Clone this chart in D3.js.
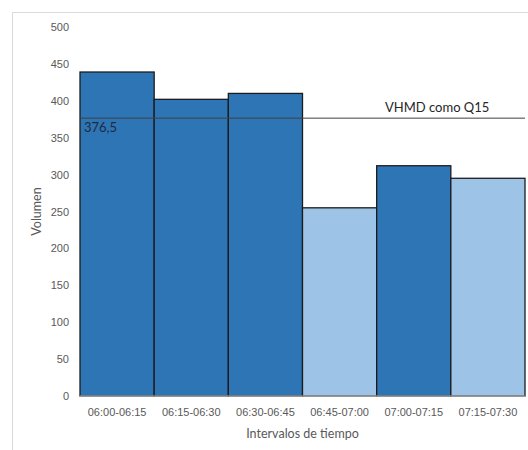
<!DOCTYPE html>
<html>
<head>
<meta charset="utf-8">
<script src="https://cdn.jsdelivr.net/npm/d3@7/dist/d3.min.js"></script>
<style>
  html, body { margin: 0; padding: 0; background: #fff; }
  svg { display: block; font-family: Lato, "Open Sans", sans-serif; }
</style>
</head>
<body>
<svg id="chart" width="528" height="450"></svg>
<script>
// Volumen vehicular por intervalo de 15 minutos
const intervals = ["06:00-06:15", "06:15-06:30", "06:30-06:45", "06:45-07:00", "07:00-07:15", "07:15-07:30"];
const volumes = [439, 402, 410, 255, 312, 295];
// Intervalos que forman la hora de máxima demanda
const inPeakHour = [true, true, true, false, true, false];
const yTicks = [0, 50, 100, 150, 200, 250, 300, 350, 400, 450, 500];
const q15 = 376.5;
const q15Label = "376,5";
const lineLabel = "VHMD como Q15";

const svg = d3.select("#chart");
const W = 528, H = 450;
const m = { left: 80, right: 3, top: 27, bottom: 54 };

// chart frame
svg.append("rect")
  .attr("x", 12.5).attr("y", 12.5)
  .attr("width", W + 10).attr("height", H + 10)
  .attr("fill", "#fff").attr("stroke", "#d9d9d9").attr("stroke-width", 1);

const x = d3.scaleBand().domain(intervals).range([m.left, W - m.right]).padding(0);
const y = d3.scaleLinear().domain([0, 500]).range([H - m.bottom, m.top]);

// bars
svg.append("g").selectAll("rect")
  .data(intervals)
  .join("rect")
  .attr("x", d => x(d))
  .attr("y", (d, i) => y(volumes[i]))
  .attr("width", x.bandwidth())
  .attr("height", (d, i) => y(0) - y(volumes[i]))
  .attr("fill", (d, i) => inPeakHour[i] ? "#2e75b6" : "#9dc3e6")
  .attr("stroke", "#1c1c1c")
  .attr("stroke-width", 1.3);

// baseline
svg.append("line")
  .attr("x1", m.left).attr("x2", W - m.right)
  .attr("y1", y(0)).attr("y2", y(0))
  .attr("stroke", "#bfbfbf").attr("stroke-width", 1);

// y axis
const yAxis = d3.axisLeft(y).tickValues(yTicks).tickSize(0).tickPadding(11);
const gy = svg.append("g").attr("transform", `translate(${m.left},0)`).call(yAxis);
gy.select(".domain").remove();
gy.selectAll("text").attr("fill", "#595959").style("font-size", "11px");

// x axis
const xAxis = d3.axisBottom(x).tickSize(0).tickPadding(12);
const gx = svg.append("g").attr("transform", `translate(0,${y(0)})`).call(xAxis);
gx.select(".domain").remove();
gx.selectAll("text").attr("fill", "#595959").style("font-size", "11px");

// Q15 reference line
svg.append("line")
  .attr("x1", m.left).attr("x2", W - m.right)
  .attr("y1", y(q15)).attr("y2", y(q15))
  .attr("stroke", "#404040").attr("stroke-width", 1);

svg.append("text")
  .attr("x", m.left + 4).attr("y", y(q15) + 14)
  .attr("fill", "#1f2a3a").style("font-size", "13px")
  .text(q15Label);

svg.append("text")
  .attr("x", 385).attr("y", y(q15) - 6)
  .attr("fill", "#262626").style("font-size", "13px")
  .text(lineLabel);

// axis titles
svg.append("text")
  .attr("transform", `translate(41,${(y(0) + y(500)) / 2}) rotate(-90)`)
  .attr("text-anchor", "middle")
  .attr("fill", "#595959").style("font-size", "12.5px")
  .text("Volumen");

svg.append("text")
  .attr("x", (m.left + W - m.right) / 2).attr("y", 438)
  .attr("text-anchor", "middle")
  .attr("fill", "#595959").style("font-size", "12.5px")
  .text("Intervalos de tiempo");
</script>
</body>
</html>
